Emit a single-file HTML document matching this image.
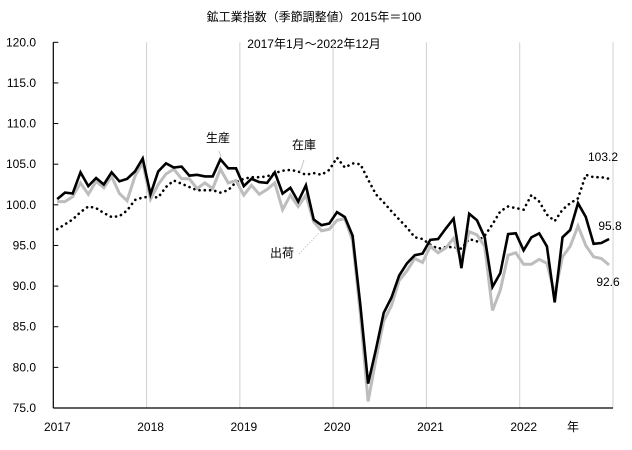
<!DOCTYPE html>
<html><head><meta charset="utf-8"><style>
body{margin:0;background:#fff}
svg text{font-family:"Liberation Sans","Noto Sans CJK JP",sans-serif;font-size:12px;fill:#000}
</style></head><body>
<svg id="chart" width="632" height="445" xmlns="http://www.w3.org/2000/svg">
<text x="314" y="21" text-anchor="middle">鉱工業指数（季節調整値）2015年＝100</text>
<text x="314" y="48" text-anchor="middle">2017年1月～2022年12月</text>
<g id="grid"></g>
<g id="axes"></g>
<g id="series"></g>
<text x="218" y="142" text-anchor="middle">生産</text>
<line x1="219" y1="151" x2="221" y2="157" stroke="#bbb" stroke-width="0.8"/>
<text x="304" y="149" text-anchor="middle">在庫</text>
<line x1="304" y1="160" x2="300" y2="172" stroke="#bbb" stroke-width="0.8"/>
<text x="282" y="257" text-anchor="middle">出荷</text>
<line x1="299" y1="254" x2="319" y2="233" stroke="#bbb" stroke-width="0.8" stroke-dasharray="1.5,1.5"/>
<text x="603" y="161" text-anchor="middle">103.2</text>
<text x="610" y="230" text-anchor="middle">95.8</text>
<text x="608" y="286" text-anchor="middle">92.6</text>
</svg>
<script>
const years = ["2017","2018","2019","2020","2021","2022"];
const yTicks = [75,80,85,90,95,100,105,110,115,120];
const production = [100.7,101.5,101.4,104.0,102.3,103.3,102.5,104.0,102.9,103.2,104.1,105.7,
101.3,104.1,105.1,104.6,104.7,103.6,103.7,103.5,103.5,105.6,104.5,104.5,
102.3,103.2,102.8,102.7,104.0,101.4,102.1,100.4,102.4,98.2,97.5,97.7,
99.1,98.5,96.2,87.6,78.0,82.2,86.7,88.6,91.3,92.8,93.8,94.0,
95.7,95.8,97.1,98.3,92.2,98.9,98.1,96.0,89.9,91.6,96.4,96.5,
94.4,96.0,96.5,94.9,88.0,96.0,96.9,100.2,98.5,95.2,95.3,95.8];
const shipments = [100.4,100.4,101.0,102.7,101.3,102.9,102.1,103.5,101.4,100.5,103.5,105.2,
100.7,102.5,103.8,104.4,103.2,103.2,102.0,102.7,102.0,104.4,102.7,103.0,
101.2,102.4,101.3,101.9,102.7,99.4,101.2,99.8,101.2,97.9,96.8,97.0,
98.1,98.3,95.6,86.5,75.8,81.0,85.7,87.6,90.7,91.9,93.4,92.9,
94.9,94.1,94.7,95.9,93.1,96.7,96.3,94.9,87.0,89.5,93.8,94.1,
92.7,92.7,93.3,92.8,89.0,93.6,94.9,97.4,95.0,93.6,93.4,92.6];
const inventory = [97.0,97.6,98.2,99.1,99.8,99.6,99.0,98.5,98.6,99.3,100.6,100.9,
101.0,100.9,102.2,103.0,102.6,102.2,101.8,101.8,101.8,101.5,101.8,102.8,
103.2,103.4,103.4,103.5,103.9,104.2,104.3,104.1,103.7,103.9,103.7,104.3,
105.8,104.6,105.1,105.0,103.1,101.3,100.3,99.2,98.2,97.2,96.0,95.8,
95.1,94.6,94.8,94.8,94.6,95.8,95.5,96.2,97.6,99.2,99.8,99.6,
99.4,101.2,100.4,98.8,98.0,99.4,100.2,100.8,103.7,103.4,103.4,103.2];

const X0=53.3, X1=613, Y0=408, Y1=42.3, VMIN=75, VMAX=120, N=72;
const mw=(X1-X0)/N;
const xm=i=>X0+(i+0.5)*mw;
const xy=k=>X0+k*12*mw;
const yv=v=>Y0-(v-VMIN)/(VMAX-VMIN)*(Y0-Y1);
const NS="http://www.w3.org/2000/svg";
function mk(tag,parent,attrs){const e=document.createElementNS(NS,tag);for(const k in attrs)e.setAttribute(k,attrs[k]);parent.appendChild(e);return e;}
const grid=document.getElementById('grid'), axes=document.getElementById('axes'), ser=document.getElementById('series');
for(let k=1;k<=6;k++){
  const l=mk('line',grid,{x1:xy(k),x2:xy(k),y1:Y1,y2:Y0,stroke:'#d0d0d0','stroke-width':1});
  
  
}
yTicks.forEach(t=>{
  const tk=mk('line',axes,{x1:X0,x2:X0+5,y1:yv(t),y2:yv(t),stroke:'#000','stroke-width':1});
  
  
  const tx=mk('text',axes,{x:36,y:yv(t)+4,'text-anchor':'end'});
  tx.textContent=t.toFixed(1);
  
  
});
const ya=mk('line',axes,{x1:X0,x2:X0,y1:Y1,y2:Y0,stroke:'#000','stroke-width':1.2});


const xa=mk('line',axes,{x1:X0,x2:X1,y1:Y0,y2:Y0,stroke:'#000','stroke-width':1.2});


years.forEach((y,k)=>{
  const tx=mk('text',axes,{x:xy(k)+4,y:431,'text-anchor':'middle'});
  tx.textContent=y;
  
  
});
const nen=mk('text',axes,{x:573,y:431,'text-anchor':'middle'});
nen.textContent='年';


function pts(a){return a.map((v,i)=>xm(i).toFixed(1)+','+yv(v).toFixed(1)).join(' ');}
const inv=mk('polyline',ser,{points:pts(inventory),fill:'none',stroke:'#000','stroke-width':2.6,'stroke-dasharray':'0.1,5.2','stroke-linecap':'round'});


const sh=mk('polyline',ser,{points:pts(shipments),fill:'none',stroke:'#bdbdbd','stroke-width':3,'stroke-linejoin':'miter'});


const pr=mk('polyline',ser,{points:pts(production),fill:'none',stroke:'#000','stroke-width':2.6,'stroke-linejoin':'miter'});


</script>
</body></html>
